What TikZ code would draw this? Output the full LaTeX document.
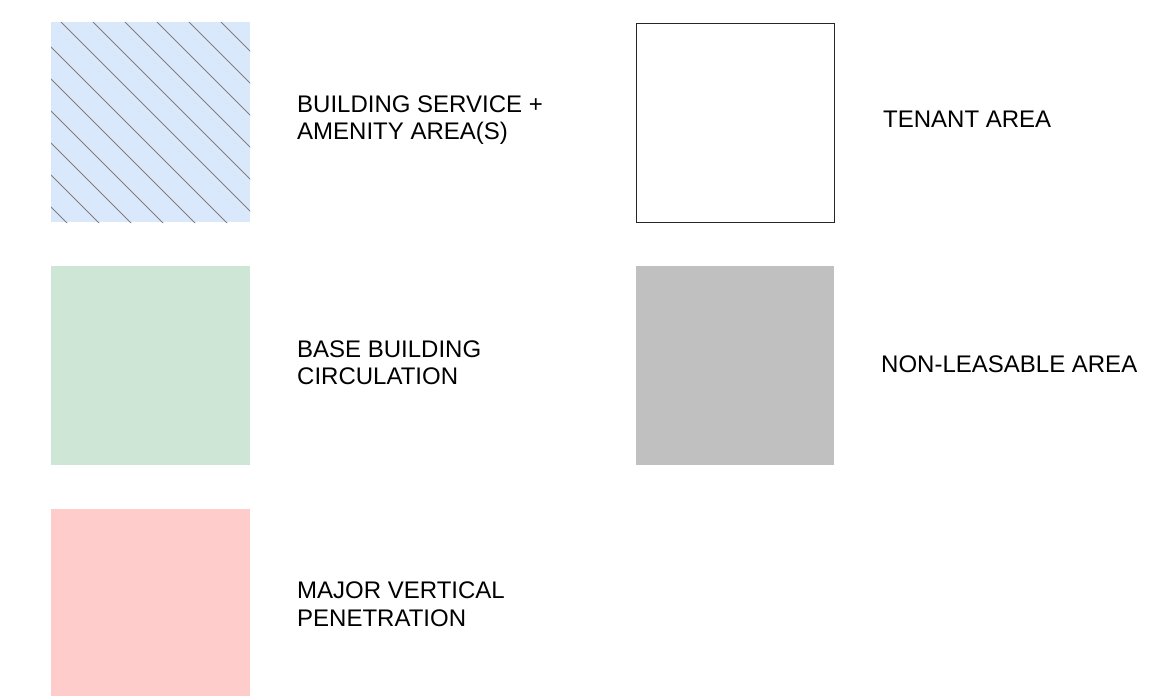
\documentclass[tikz,border=0pt]{standalone}
\usepackage{fontspec}
\setmainfont{Liberation Sans}
\usetikzlibrary{positioning}
\definecolor{servblue}{RGB}{218,232,252}
\definecolor{circgreen}{RGB}{205,230,214}
\definecolor{penred}{RGB}{255,204,204}
\definecolor{nlgray}{RGB}{192,192,192}
\tikzset{legtext/.style={anchor=base west, inner sep=0pt, align=left,
    font=\fontsize{24pt}{27.5pt}\selectfont}}

\begin{document}
\begin{tikzpicture}[x=1pt,y=-1pt]
					\useasboundingbox (0,0) rectangle (1170,696);

					\fill [servblue] (51,22) rectangle (250,222);
					\begin{scope}
						\clip (51,22) rectangle (250,222);
						\foreach \c in {-156,-124,-92,-60,-28,4,39,71,103,135,167,199}
							\draw [black!50, line width=0.8pt] (\c+22-60,-38) -- ++(320,320);
					\end{scope}
					\fill [circgreen] (51,266) rectangle (250,465);
					\fill [penred] (51,509) rectangle (250,696);

					\draw [black!85, line width=1pt] (636,23) rectangle (834,222);
					\fill [nlgray] (636,266) rectangle (834,465);

					\node (serv) [legtext] at (297,139.5) {BUILDING SERVICE +\\AMENITY AREA(S)};
					\node (circ) [legtext] at (297,384.5) {BASE BUILDING\\CIRCULATION};
					\node (pen) [legtext] at (297,626) {MAJOR VERTICAL\\PENETRATION};
					\node (tenant) [legtext] at (883,127) {TENANT AREA};
					\node (nonleas) [legtext] at (881,372) {NON-LEASABLE AREA};
				\end{tikzpicture}
\end{document}
